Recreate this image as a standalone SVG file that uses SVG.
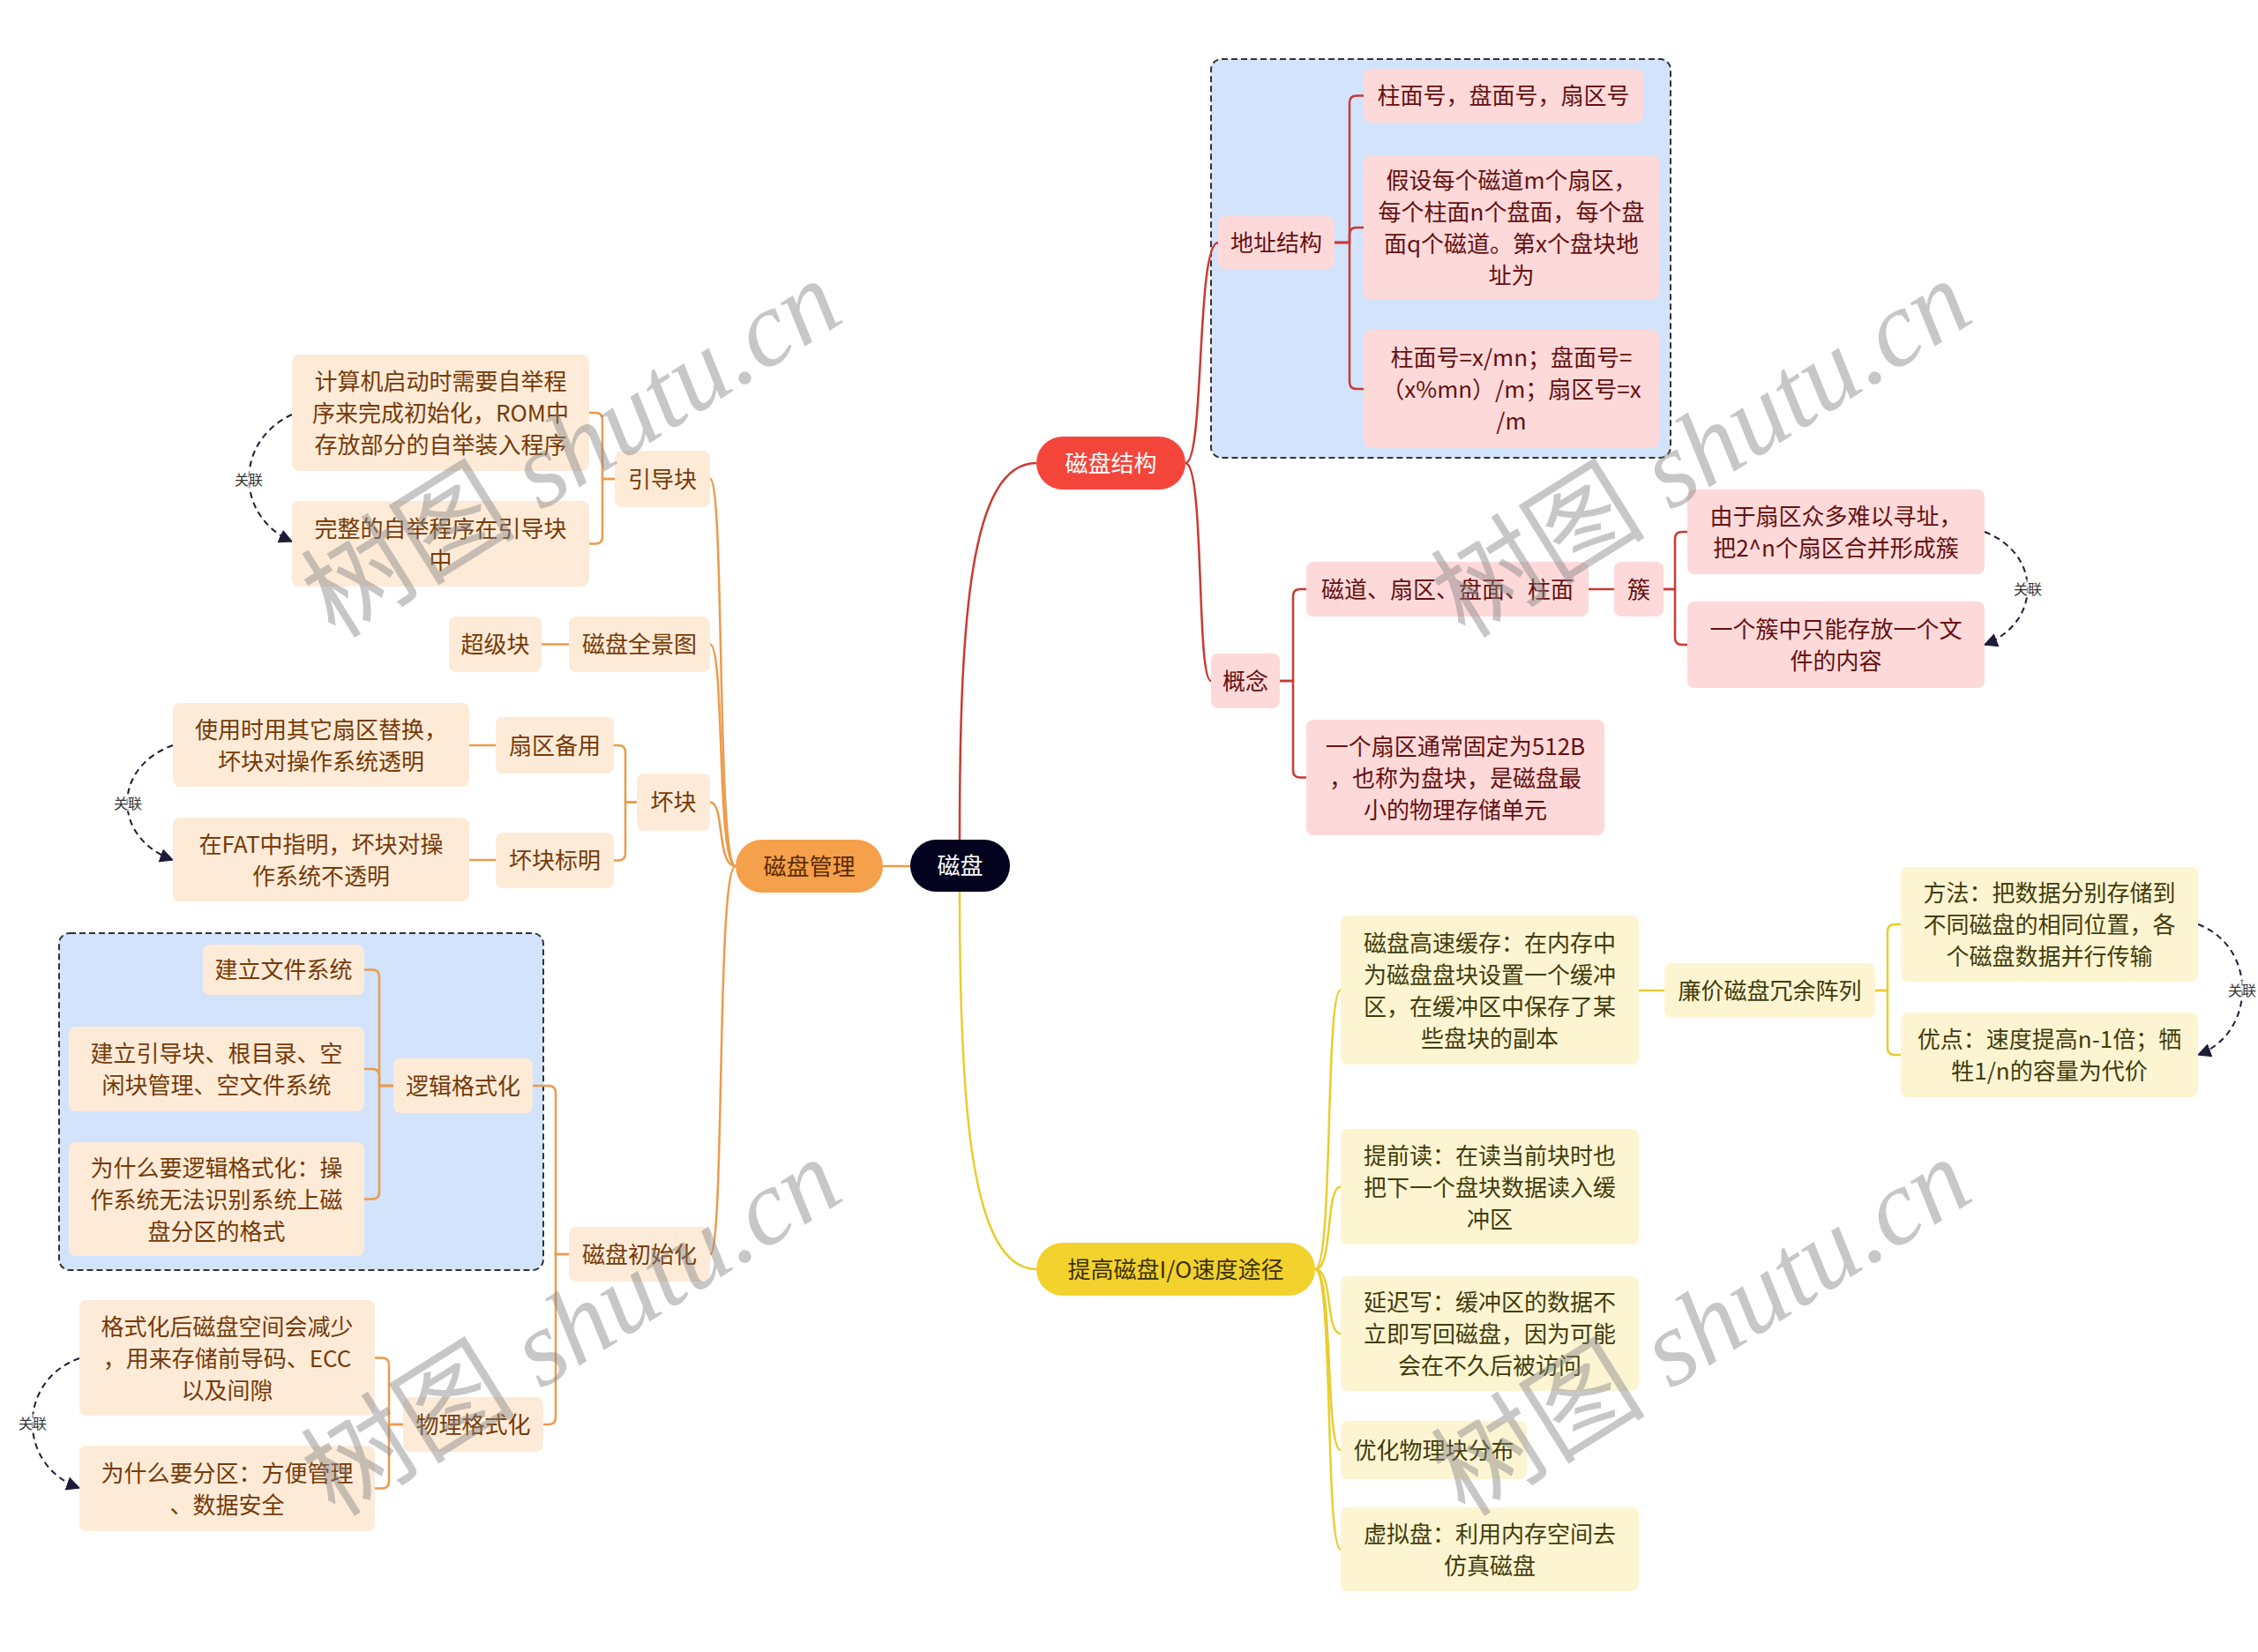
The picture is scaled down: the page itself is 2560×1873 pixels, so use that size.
<svg xmlns="http://www.w3.org/2000/svg" width="2560" height="1873" viewBox="0 0 2560 1873">
<defs>
<style>
.t{font-family:"Noto Sans CJK SC","Noto Sans",sans-serif;font-size:26px;text-anchor:middle;dominant-baseline:central;transform:translateY(-2px)}
.pe rect{fill:#fdebd8}.pe text{fill:#763a08}
.pk rect{fill:#fdd9d9}.pk text{fill:#651010}
.cr rect{fill:#fdf5d2}.cr text{fill:#423c0b}
.co path{fill:none;stroke-width:2.5}
.o{stroke:#ec9b4b}.r{stroke:#c93a33}.y{stroke:#e9cd2e}
.rel path{fill:none;stroke:#1c1c3a;stroke-width:2;stroke-dasharray:7 5}
.lbl{font-family:"Noto Sans CJK SC",sans-serif;font-size:16px;fill:#333;text-anchor:middle;dominant-baseline:central}
.grp{fill:#d3e3fb;stroke:#333;stroke-width:2;stroke-dasharray:7 4}
.wm{font-family:"Liberation Serif","Noto Sans CJK SC",serif;font-size:122px;fill:#858585;opacity:0.45;text-anchor:middle}
</style>
<marker id="ah" viewBox="0 0 12 12" refX="11" refY="6" markerWidth="16" markerHeight="16" markerUnits="userSpaceOnUse" orient="auto">
<path d="M0,0 L12,6 L0,12 z" fill="#1c1c3a"/>
</marker>
</defs>
<rect width="2560" height="1873" fill="#ffffff"/>

<g id="groups">
<rect class="grp" x="67" y="1058" width="549" height="382" rx="12"/>
<rect class="grp" x="1373" y="67" width="521" height="452" rx="12"/>
</g>

<g id="connectors" class="co">
<path class="o" d="M1032,982 H1001"/>
<path class="r" d="M1088,952 C1088,700 1100,525 1175,525"/>
<path class="y" d="M1088,1011 C1088,1250 1100,1439 1175,1439"/>
<path class="o" d="M834,982 C812,982 822,543 805,543"/>
<path class="o" d="M834,982 C812,982 822,730.5 805,730.5"/>
<path class="o" d="M834,982 C812,982 822,909.5 805,909.5"/>
<path class="o" d="M834,982 C812,982 822,1422 805,1422"/>
<path class="o" d="M697,543 H683 V476 Q683,468 675,468 H668"/>
<path class="o" d="M697,543 H683 V608.5 Q683,616.5 675,616.5 H668"/>
<path class="o" d="M645,730.5 H614"/>
<path class="o" d="M722,909.5 H709 V853 Q709,845 701,845 H696"/>
<path class="o" d="M722,909.5 H709 V967.5 Q709,975.5 701,975.5 H696"/>
<path class="o" d="M562,845 H532"/>
<path class="o" d="M562,975 H532"/>
<path class="o" d="M645,1422 H630 V1239 Q630,1231 622,1231 H604"/>
<path class="o" d="M645,1422 H630 V1607 Q630,1615 622,1615 H616"/>
<path class="o" d="M446,1231 H430 V1107.5 Q430,1099.5 422,1099.5 H413"/>
<path class="o" d="M446,1231 H430 V1220 Q430,1212 422,1212 H413"/>
<path class="o" d="M446,1231 H430 V1351.5 Q430,1359.5 422,1359.5 H413"/>
<path class="o" d="M457,1615 H441 V1547.5 Q441,1539.5 433,1539.5 H425"/>
<path class="o" d="M457,1615 H441 V1679.5 Q441,1687.5 433,1687.5 H425"/>
<path class="r" d="M1344,525 C1366,525 1356,275 1381,275"/>
<path class="r" d="M1344,525 C1366,525 1356,772 1373,772"/>
<path class="r" d="M1513,275 H1530 V116.5 Q1530,108.5 1538,108.5 H1546"/>
<path class="r" d="M1513,275 H1530 V266 Q1530,258 1538,258 H1546"/>
<path class="r" d="M1513,275 H1530 V433 Q1530,441 1538,441 H1546"/>
<path class="r" d="M1451,772 H1466 V676 Q1466,668 1474,668 H1481"/>
<path class="r" d="M1451,772 H1466 V873.5 Q1466,881.5 1474,881.5 H1481"/>
<path class="r" d="M1801,668 H1830"/>
<path class="r" d="M1886,668 H1899 V611 Q1899,603 1907,603 H1913"/>
<path class="r" d="M1886,668 H1899 V723 Q1899,731 1907,731 H1913"/>
<path class="y" d="M1491,1439 C1512,1439 1502,1122.5 1520,1122.5"/>
<path class="y" d="M1491,1439 C1512,1439 1502,1345.5 1520,1345.5"/>
<path class="y" d="M1491,1439 C1512,1439 1502,1512 1520,1512"/>
<path class="y" d="M1491,1439 C1512,1439 1502,1644 1520,1644"/>
<path class="y" d="M1491,1439 C1512,1439 1502,1756.5 1520,1756.5"/>
<path class="y" d="M1858,1123 H1887"/>
<path class="y" d="M2126,1123 H2140 V1056 Q2140,1048 2148,1048 H2155"/>
<path class="y" d="M2126,1123 H2140 V1188 Q2140,1196 2148,1196 H2155"/>
</g>

<g id="relations" class="rel">
<path d="M331,470 C266,500 266,585 331,614" marker-end="url(#ah)"/>
<path d="M196,845 C127,870 127,950 196,975" marker-end="url(#ah)"/>
<path d="M90,1540 C19,1565 19,1662 90,1687" marker-end="url(#ah)"/>
<path d="M2250,603 C2315,628 2315,706 2250,731" marker-end="url(#ah)"/>
<path d="M2492,1048 C2559,1073 2559,1171 2492,1196" marker-end="url(#ah)"/>
</g>
<g id="relation-labels">
<rect x="266" y="533" width="32" height="20" fill="#fff" opacity="0.6"/><text class="lbl" x="282" y="543">关联</text>
<rect x="129" y="900" width="32" height="20" fill="#fff" opacity="0.6"/><text class="lbl" x="145" y="910">关联</text>
<rect x="21" y="1603" width="32" height="20" fill="#fff" opacity="0.6"/><text class="lbl" x="37" y="1613">关联</text>
<rect x="2283" y="657" width="32" height="20" fill="#fff" opacity="0.6"/><text class="lbl" x="2299" y="667">关联</text>
<rect x="2526" y="1112" width="32" height="20" fill="#fff" opacity="0.6"/><text class="lbl" x="2542" y="1122">关联</text>
</g>

<g id="n-root"><rect x="1032" y="952" width="113" height="59" rx="29.5" fill="#03031f"/><text class="t" x="1088.5" y="981.5" fill="#ffffff">磁盘</text></g>
<g id="n-mgmt"><rect x="834" y="952" width="167" height="60" rx="30" fill="#f5a04b"/><text class="t" x="917.5" y="982" fill="#5b2c00">磁盘管理</text></g>
<g id="n-struct"><rect x="1175" y="495" width="169" height="60" rx="30" fill="#f4453b"/><text class="t" x="1259.5" y="525" fill="#ffffff">磁盘结构</text></g>
<g id="n-speed"><rect x="1175" y="1409" width="316" height="60" rx="30" fill="#f3d22d"/><text class="t" x="1333" y="1439" fill="#3b3200">提高磁盘I/O速度途径</text></g>

<g id="n-boot" class="pe"><rect x="697" y="511" width="108" height="64" rx="8"/><text class="t" x="751" y="543">引导块</text></g>
<g id="n-panorama" class="pe"><rect x="645" y="699" width="160" height="63" rx="8"/><text class="t" x="725" y="730.5">磁盘全景图</text></g>
<g id="n-super" class="pe"><rect x="509" y="699" width="105" height="63" rx="8"/><text class="t" x="561.5" y="730.5">超级块</text></g>
<g id="n-bad" class="pe"><rect x="722" y="877" width="83" height="65" rx="8"/><text class="t" x="763.5" y="909.5">坏块</text></g>
<g id="n-init" class="pe"><rect x="645" y="1391" width="160" height="62" rx="8"/><text class="t" x="725" y="1422">磁盘初始化</text></g>
<g id="n-boot1" class="pe"><rect x="331" y="402" width="337" height="132" rx="8"/><text class="t"><tspan x="499.5" y="432">计算机启动时需要自举程</tspan><tspan x="499.5" y="468">序来完成初始化，ROM中</tspan><tspan x="499.5" y="504">存放部分的自举装入程序</tspan></text></g>
<g id="n-boot2" class="pe"><rect x="331" y="568" width="337" height="97" rx="8"/><text class="t"><tspan x="499.5" y="598.5">完整的自举程序在引导块</tspan><tspan x="499.5" y="634.5">中</tspan></text></g>
<g id="n-spare" class="pe"><rect x="562" y="813" width="134" height="64" rx="8"/><text class="t" x="629" y="845">扇区备用</text></g>
<g id="n-mark" class="pe"><rect x="562" y="944" width="134" height="63" rx="8"/><text class="t" x="629" y="975.5">坏块标明</text></g>
<g id="n-spare1" class="pe"><rect x="196" y="797" width="336" height="95" rx="8"/><text class="t"><tspan x="364" y="826.5">使用时用其它扇区替换，</tspan><tspan x="364" y="862.5">坏块对操作系统透明</tspan></text></g>
<g id="n-mark1" class="pe"><rect x="196" y="927" width="336" height="95" rx="8"/><text class="t"><tspan x="364" y="956.5">在FAT中指明，坏块对操</tspan><tspan x="364" y="992.5">作系统不透明</tspan></text></g>
<g id="n-logic" class="pe"><rect x="446" y="1200" width="158" height="62" rx="8"/><text class="t" x="525" y="1231">逻辑格式化</text></g>
<g id="n-phys" class="pe"><rect x="457" y="1584" width="159" height="62" rx="8"/><text class="t" x="536.5" y="1615">物理格式化</text></g>
<g id="n-logic1" class="pe"><rect x="230" y="1071" width="183" height="57" rx="8"/><text class="t" x="321.5" y="1099.5">建立文件系统</text></g>
<g id="n-logic2" class="pe"><rect x="78" y="1164" width="335" height="96" rx="8"/><text class="t"><tspan x="245.5" y="1194">建立引导块、根目录、空</tspan><tspan x="245.5" y="1230">闲块管理、空文件系统</tspan></text></g>
<g id="n-logic3" class="pe"><rect x="78" y="1295" width="335" height="129" rx="8"/><text class="t"><tspan x="245.5" y="1323.5">为什么要逻辑格式化：操</tspan><tspan x="245.5" y="1359.5">作系统无法识别系统上磁</tspan><tspan x="245.5" y="1395.5">盘分区的格式</tspan></text></g>
<g id="n-phys1" class="pe"><rect x="90" y="1474" width="335" height="131" rx="8"/><text class="t"><tspan x="257.5" y="1503.5">格式化后磁盘空间会减少</tspan><tspan x="257.5" y="1539.5">，用来存储前导码、ECC</tspan><tspan x="257.5" y="1575.5">以及间隙</tspan></text></g>
<g id="n-phys2" class="pe"><rect x="90" y="1639" width="335" height="97" rx="8"/><text class="t"><tspan x="257.5" y="1669.5">为什么要分区：方便管理</tspan><tspan x="257.5" y="1705.5">、数据安全</tspan></text></g>

<g id="n-addr" class="pk"><rect x="1381" y="245" width="132" height="60" rx="8"/><text class="t" x="1447" y="275">地址结构</text></g>
<g id="n-addr1" class="pk"><rect x="1546" y="78" width="317" height="61" rx="8"/><text class="t" x="1704.5" y="108.5">柱面号，盘面号，扇区号</text></g>
<g id="n-addr2" class="pk"><rect x="1546" y="176" width="335" height="164" rx="8"/><text class="t"><tspan x="1713.5" y="204">假设每个磁道m个扇区，</tspan><tspan x="1713.5" y="240">每个柱面n个盘面，每个盘</tspan><tspan x="1713.5" y="276">面q个磁道。第x个盘块地</tspan><tspan x="1713.5" y="312">址为</tspan></text></g>
<g id="n-addr3" class="pk"><rect x="1546" y="374" width="335" height="134" rx="8"/><text class="t"><tspan x="1713.5" y="405">柱面号=x/mn；盘面号=</tspan><tspan x="1713.5" y="441">（x%mn）/m；扇区号=x</tspan><tspan x="1713.5" y="477">/m</tspan></text></g>
<g id="n-concept" class="pk"><rect x="1373" y="741" width="78" height="62" rx="8"/><text class="t" x="1412" y="772">概念</text></g>
<g id="n-track" class="pk"><rect x="1481" y="637" width="320" height="62" rx="8"/><text class="t" x="1641" y="668">磁道、扇区、盘面、柱面</text></g>
<g id="n-cluster" class="pk"><rect x="1830" y="637" width="56" height="62" rx="8"/><text class="t" x="1858" y="668">簇</text></g>
<g id="n-cluster1" class="pk"><rect x="1913" y="555" width="337" height="96" rx="8"/><text class="t"><tspan x="2081.5" y="585">由于扇区众多难以寻址，</tspan><tspan x="2081.5" y="621">把2^n个扇区合并形成簇</tspan></text></g>
<g id="n-cluster2" class="pk"><rect x="1913" y="682" width="337" height="98" rx="8"/><text class="t"><tspan x="2081.5" y="713">一个簇中只能存放一个文</tspan><tspan x="2081.5" y="749">件的内容</tspan></text></g>
<g id="n-sector" class="pk"><rect x="1481" y="816" width="338" height="131" rx="8"/><text class="t"><tspan x="1650" y="845.5">一个扇区通常固定为512B</tspan><tspan x="1650" y="881.5">，也称为盘块，是磁盘最</tspan><tspan x="1650" y="917.5">小的物理存储单元</tspan></text></g>

<g id="n-cache" class="cr"><rect x="1520" y="1038" width="338" height="169" rx="8"/><text class="t"><tspan x="1689" y="1068.5">磁盘高速缓存：在内存中</tspan><tspan x="1689" y="1104.5">为磁盘盘块设置一个缓冲</tspan><tspan x="1689" y="1140.5">区，在缓冲区中保存了某</tspan><tspan x="1689" y="1176.5">些盘块的副本</tspan></text></g>
<g id="n-raid" class="cr"><rect x="1887" y="1092" width="239" height="62" rx="8"/><text class="t" x="2006.5" y="1123">廉价磁盘冗余阵列</text></g>
<g id="n-raid1" class="cr"><rect x="2155" y="983" width="337" height="130" rx="8"/><text class="t"><tspan x="2323.5" y="1012">方法：把数据分别存储到</tspan><tspan x="2323.5" y="1048">不同磁盘的相同位置，各</tspan><tspan x="2323.5" y="1084">个磁盘数据并行传输</tspan></text></g>
<g id="n-raid2" class="cr"><rect x="2155" y="1148" width="337" height="96" rx="8"/><text class="t"><tspan x="2323.5" y="1178">优点：速度提高n-1倍；牺</tspan><tspan x="2323.5" y="1214">牲1/n的容量为代价</tspan></text></g>
<g id="n-readahead" class="cr"><rect x="1520" y="1280" width="338" height="131" rx="8"/><text class="t"><tspan x="1689" y="1309.5">提前读：在读当前块时也</tspan><tspan x="1689" y="1345.5">把下一个盘块数据读入缓</tspan><tspan x="1689" y="1381.5">冲区</tspan></text></g>
<g id="n-delay" class="cr"><rect x="1520" y="1447" width="338" height="130" rx="8"/><text class="t"><tspan x="1689" y="1476">延迟写：缓冲区的数据不</tspan><tspan x="1689" y="1512">立即写回磁盘，因为可能</tspan><tspan x="1689" y="1548">会在不久后被访问</tspan></text></g>
<g id="n-layout" class="cr"><rect x="1520" y="1611" width="211" height="66" rx="8"/><text class="t" x="1625.5" y="1644">优化物理块分布</text></g>
<g id="n-ramdisk" class="cr"><rect x="1520" y="1709" width="338" height="95" rx="8"/><text class="t"><tspan x="1689" y="1738.5">虚拟盘：利用内存空间去</tspan><tspan x="1689" y="1774.5">仿真磁盘</tspan></text></g>

<g id="watermarks">
<text class="wm" transform="translate(649,510) rotate(-32)" y="40">树图 <tspan font-style="italic">shutu.cn</tspan></text>
<text class="wm" transform="translate(649,1506) rotate(-32)" y="40">树图 <tspan font-style="italic">shutu.cn</tspan></text>
<text class="wm" transform="translate(1930,510) rotate(-32)" y="40">树图 <tspan font-style="italic">shutu.cn</tspan></text>
<text class="wm" transform="translate(1930,1506) rotate(-32)" y="40">树图 <tspan font-style="italic">shutu.cn</tspan></text>
</g>
</svg>
